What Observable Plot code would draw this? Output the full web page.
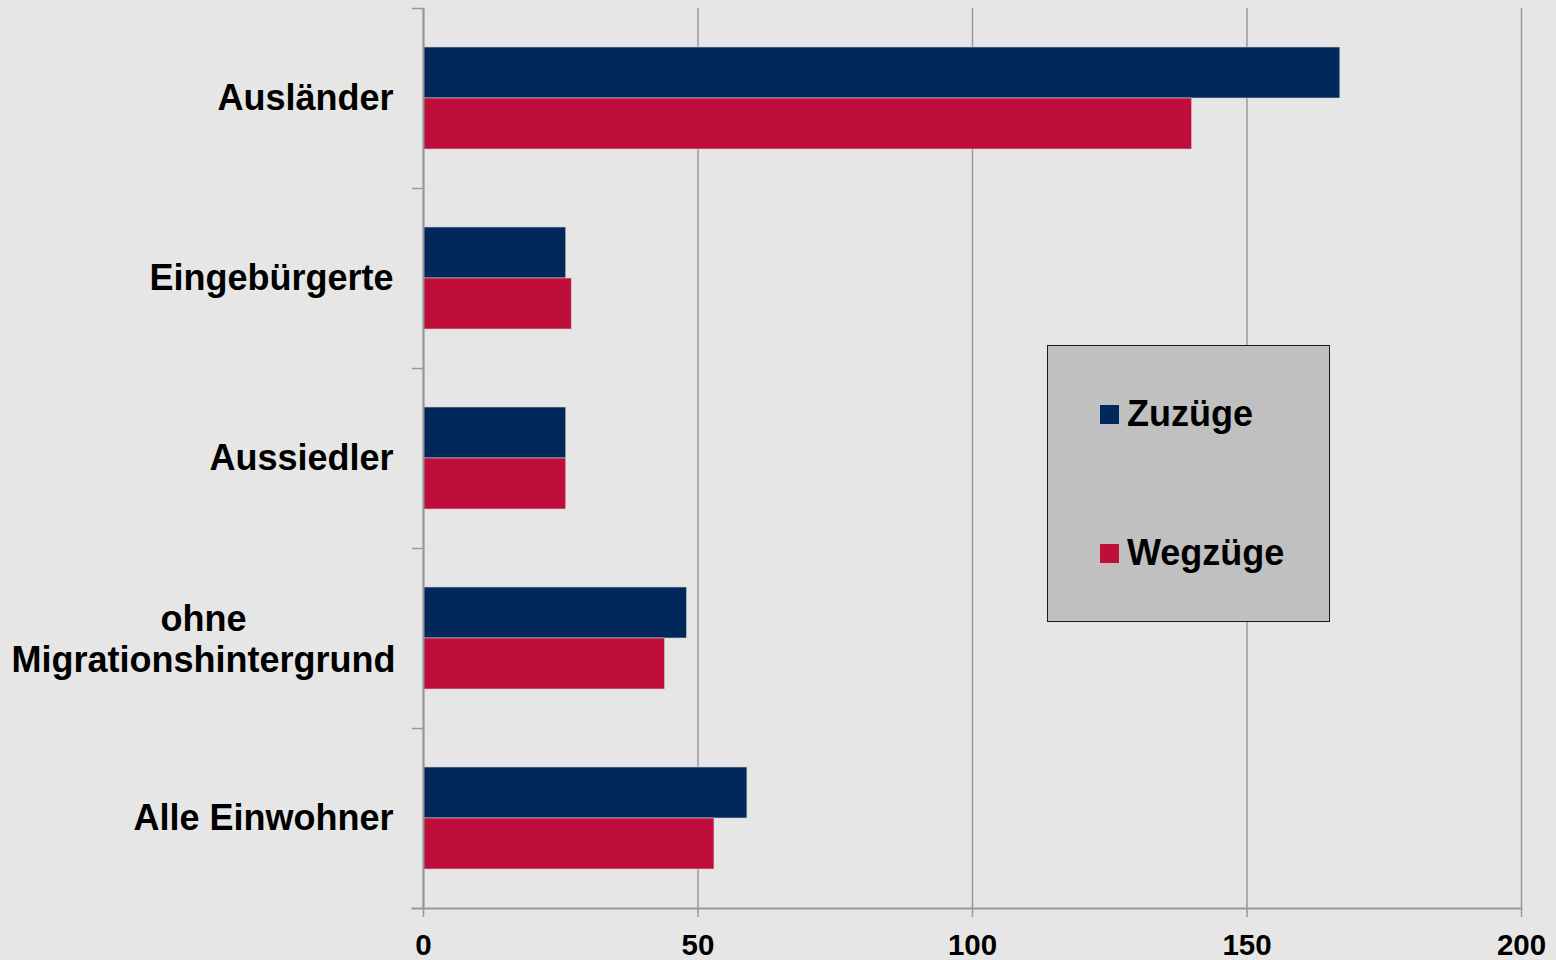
<!DOCTYPE html>
<html>
<head>
<meta charset="utf-8">
<script src="https://cdn.jsdelivr.net/npm/d3@7"></script>
<script src="https://cdn.jsdelivr.net/npm/@observablehq/plot@0.6"></script>
<style>
  html, body { margin: 0; padding: 0; background: #e6e6e6; }
  #wrap { position: relative; width: 1556px; height: 960px; font-family: "Liberation Sans", Arial, sans-serif; font-weight: bold; }
  #legend { position: absolute; left: 1047px; top: 345px; width: 281px; height: 275px; background: #c0c0c0; border: 1.5px solid #1a1a1a; }
  .item { position: absolute; left: 52px; display: flex; align-items: center; font-size: 36px; color: #000; }
  .sw { width: 19px; height: 19px; margin-right: 8px; }
</style>
</head>
<body>
<div id="wrap"></div>
<script>
const categories = ["Ausländer", "Eingebürgerte", "Aussiedler", "ohne\nMigrationshintergrund", "Alle Einwohner"];
const series = ["Zuzüge", "Wegzüge"];
const colors = ["#00285a", "#c00e3a"];
const zuzuege = [167, 26, 26, 48, 59];
const wegzuege = [140, 27, 26, 44, 53];
const xTicks = [0, 50, 100, 150, 200];

const data = categories.flatMap((c, i) => [
  {cat: c, series: series[0], value: zuzuege[i]},
  {cat: c, series: series[1], value: wegzuege[i]}
]);

const W = 1556, H = 960, mL = 423, mR = 35, mT = 8, mB = 52;
const plotW = W - mL - mR;
const isMulti = c => c.includes("\n");

const chart = Plot.plot({
  width: W, height: H,
  marginLeft: mL, marginRight: mR, marginTop: mT, marginBottom: mB,
  style: {background: "#e6e6e6", fontFamily: "Liberation Sans, Arial, sans-serif", fontWeight: "bold", color: "#000"},
  x: {domain: [0, 200], label: null},
  y: {domain: series, paddingInner: 0, paddingOuter: 0.75, axis: null},
  fy: {domain: categories, padding: 0, label: null},
  color: {domain: series, range: colors},
  marks: [
    Plot.gridX(xTicks, {stroke: "#999", strokeOpacity: 1, strokeWidth: 1.5}),
    Plot.frame({anchor: "top", stroke: "#999", strokeWidth: 1.5, insetLeft: -11, insetRight: plotW}),
    Plot.frame({anchor: "bottom", facetAnchor: "bottom", stroke: "#999", strokeWidth: 2, insetLeft: -11}),
    Plot.barX(data, {x: "value", y: "series", fy: "cat", fill: "series", stroke: "#d0d0d0", strokeWidth: 0.6}),
    Plot.ruleX([0], {stroke: "#999", strokeWidth: 2}),
    Plot.axisX(xTicks, {anchor: "bottom", tickSize: 9, tickPadding: 17, stroke: "#999", strokeWidth: 1.5, fontSize: 29.5, fontWeight: "bold", fill: "#000", label: null}),
    Plot.axisFy({anchor: "left", tickSize: 0, tickPadding: 30, fontSize: 36, fontWeight: "bold", fill: "#000", label: null,
      tickFormat: d => isMulti(d) ? "" : d}),
    Plot.axisFy({anchor: "left", tickSize: 0, tickPadding: 30, fontSize: 36, fontWeight: "bold", fill: "#000", label: null,
      tickFormat: d => isMulti(d) ? d : "", textAnchor: "middle", dx: -190, lineHeight: 1.12})
  ]
});

const wrap = document.getElementById("wrap");
wrap.appendChild(chart);

const legend = document.createElement("div");
legend.id = "legend";
series.forEach((s, i) => {
  const item = document.createElement("div");
  item.className = "item";
  item.style.top = (i === 0 ? 47 : 186) + "px";
  const sw = document.createElement("span");
  sw.className = "sw";
  sw.style.background = colors[i];
  const t = document.createElement("span");
  t.textContent = s;
  item.appendChild(sw);
  item.appendChild(t);
  legend.appendChild(item);
});
wrap.appendChild(legend);
</script>
</body>
</html>
